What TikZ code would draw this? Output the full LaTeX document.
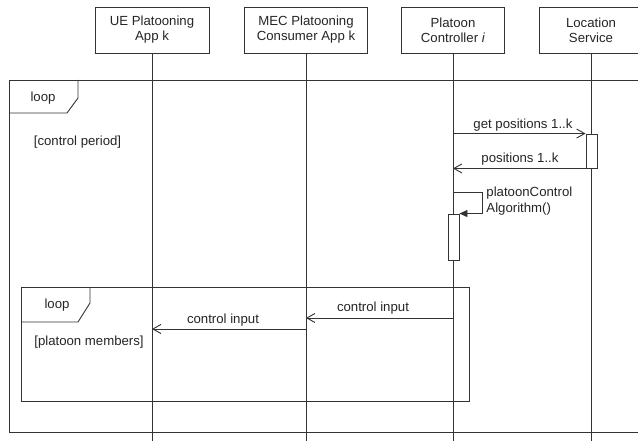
\documentclass[tikz,border=0pt]{standalone}
\usepackage{fontspec}
\setmainfont{Liberation Sans}
\usetikzlibrary{arrows.meta}
\begin{document}
\begin{tikzpicture}[x=1pt,y=-1pt,
  line width=0.9pt,
  color=black!80,
  txt/.style={font=\fontsize{13.2}{15}\selectfont, text=black!85},
  actor/.style={draw, fill=white, minimum width=#1, minimum height=46pt,
    align=center, inner sep=0pt, txt},
  lbl/.style={inner sep=0pt, txt},
  act/.style={draw, fill=white, minimum width=11pt, minimum height=#1, inner sep=0pt},
  msg/.style={-{Straight Barb[length=8pt,width=9pt]}},
  selfmsg/.style={-{Triangle[length=8pt,width=7pt]}},
]
\clip (0,0) rectangle (638,441);
\fill[white] (0,0) rectangle (638,441);

% outer loop fragment
\draw (9,80) -- (660,80) (9,80) -- (9,432) -- (660,432);
\draw (9,113) -- (67,113) -- (78,98) -- (78,80);
\node[lbl] (loopA) at (43,98) {loop};
\node[lbl] (guardA) at (77.5,142) {[control period]};

% inner loop fragment
\draw (21,287) rectangle (469,401);
\draw (21,322) -- (78,322) -- (90,303) -- (90,287);
\node[lbl] (loopB) at (57,305) {loop};
\node[lbl] (guardB) at (89,342) {[platoon members]};

% participants
\node[actor=114pt] (ue)  at (152,30) {UE Platooning\\App k};
\node[actor=123pt] (mec) at (306,30) {MEC Platooning\\Consumer App k};
\node[actor=103pt] (pc)  at (453,30) {Platoon\\Controller \textit{i}};
\node[actor=103pt] (ls)  at (591,30) {Location\\Service};

% lifelines
\foreach \p in {ue,mec,pc,ls} {
  \coordinate (\p End) at ([yshift=-400pt]\p.south);
  \draw (\p.south) -- (\p End);
}

% activations
\node[act=34pt] (lsAct) at (591.5,151) {};
\node[act=46pt] (pcAct) at (453.5,237) {};

% location request / reply
\draw[msg] (pc.south |- lsAct.north) -- (lsAct.north west);
\node[lbl] (m1) at (523,125) {get positions 1..k};
\draw[msg] (lsAct.south west) -- (pc.south |- lsAct.south);
\node[lbl] (m2) at (520,159) {positions 1..k};

% self call
\coordinate (sc1) at (482,192);
\draw[selfmsg] (pc.south |- sc1) -- (sc1) -- (sc1 |- pcAct.north) -- (pcAct.north east);
\node[lbl, anchor=west, align=left, font=\fontsize{13.2}{16}\selectfont] (m3) at (486,201) {platoonControl\\Algorithm()};

% control input distribution
\coordinate (ci1) at (0,318);
\coordinate (ci2) at (0,329);
\draw[msg] (pc.south |- ci1) -- (mec.south |- ci1);
\node[lbl] (m4) at (373,308) {control input};
\draw[msg] (mec.south |- ci2) -- (ue.south |- ci2);
\node[lbl] (m5) at (223,320) {control input};
\end{tikzpicture}
\end{document}
